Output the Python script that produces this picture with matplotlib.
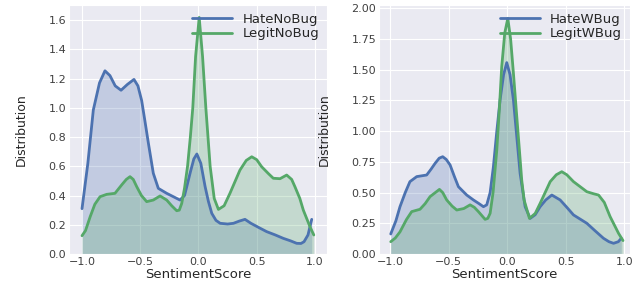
import matplotlib
matplotlib.use("Agg")
import matplotlib.pyplot as plt
import seaborn as sns

# curves (x = sentiment score, y = density)
hate_nobug_x = [-1.0, -0.95, -0.903, -0.85, -0.803, -0.76, -0.715, -0.665, -0.61, -0.554, -0.52,
                -0.488, -0.46, -0.43, -0.388, -0.345, -0.273, -0.216, -0.159, -0.12, -0.101,
                -0.07, -0.04, -0.014, 0.02, 0.057, 0.085, 0.114, 0.15, 0.186, 0.25, 0.3, 0.35,
                0.399, 0.45, 0.52, 0.585, 0.66, 0.728, 0.79, 0.843, 0.88, 0.906, 0.94, 0.972]
hate_nobug_y = [0.31, 0.62, 0.985, 1.17, 1.253, 1.22, 1.15, 1.12, 1.16, 1.194, 1.15,
                1.05, 0.91, 0.757, 0.552, 0.449, 0.415, 0.392, 0.369, 0.40, 0.46,
                0.56, 0.65, 0.684, 0.62, 0.46, 0.36, 0.278, 0.23, 0.21, 0.205, 0.21, 0.225,
                0.237, 0.21, 0.18, 0.153, 0.13, 0.107, 0.09, 0.073, 0.072, 0.084, 0.13, 0.237]

legit_nobug_x = [-1.0, -0.97, -0.93, -0.89, -0.845, -0.788, -0.717, -0.66, -0.62, -0.588, -0.56,
                 -0.53, -0.49, -0.445, -0.388, -0.33, -0.273, -0.23, -0.187, -0.165, -0.144,
                 -0.12, -0.094, -0.07, -0.049, -0.025, 0.006, 0.035, 0.063, 0.1, 0.135, 0.171,
                 0.22, 0.27, 0.356, 0.41, 0.457, 0.5, 0.542, 0.6, 0.642, 0.7, 0.757, 0.8,
                 0.828, 0.87, 0.9, 0.957, 0.99]
legit_nobug_y = [0.125, 0.16, 0.255, 0.34, 0.392, 0.408, 0.415, 0.472, 0.51, 0.529, 0.51,
                 0.46, 0.40, 0.358, 0.369, 0.397, 0.369, 0.33, 0.296, 0.30, 0.346,
                 0.45, 0.60, 0.80, 1.0, 1.35, 1.618, 1.35, 1.0, 0.6, 0.38, 0.305,
                 0.33, 0.415, 0.574, 0.64, 0.665, 0.645, 0.597, 0.55, 0.518, 0.515, 0.54, 0.51,
                 0.46, 0.38, 0.30, 0.187, 0.13]

hate_wbug_x = [-0.994, -0.95, -0.915, -0.87, -0.83, -0.772, -0.687, -0.65, -0.615, -0.58, -0.55,
               -0.52, -0.487, -0.45, -0.416, -0.345, -0.288, -0.24, -0.202, -0.174, -0.145,
               -0.117, -0.09, -0.06, -0.03, -0.003, 0.025, 0.054, 0.085, 0.111, 0.154, 0.197,
               0.24, 0.282, 0.33, 0.382, 0.453, 0.51, 0.567, 0.681, 0.75, 0.823, 0.87, 0.909,
               0.95, 0.975]
hate_wbug_y = [0.163, 0.27, 0.385, 0.50, 0.589, 0.63, 0.643, 0.69, 0.738, 0.78, 0.792,
               0.77, 0.725, 0.63, 0.548, 0.48, 0.44, 0.41, 0.385, 0.40, 0.50,
               0.711, 0.98, 1.254, 1.46, 1.558, 1.46, 1.254, 0.93, 0.657, 0.385, 0.29,
               0.32, 0.385, 0.44, 0.48, 0.44, 0.38, 0.318, 0.25, 0.19, 0.128, 0.10, 0.087,
               0.10, 0.128]

legit_wbug_x = [-0.994, -0.955, -0.915, -0.86, -0.815, -0.744, -0.7, -0.658, -0.578, -0.55,
                -0.516, -0.47, -0.43, -0.37, -0.316, -0.28, -0.245, -0.188, -0.165, -0.145,
                -0.12, -0.088, -0.065, -0.046, -0.02, 0.006, 0.03, 0.054, 0.08, 0.105, 0.125,
                0.145, 0.191, 0.24, 0.282, 0.368, 0.42, 0.467, 0.51, 0.567, 0.681, 0.74,
                0.781, 0.83, 0.88, 0.952, 0.99]
legit_wbug_y = [0.10, 0.13, 0.18, 0.28, 0.345, 0.364, 0.41, 0.467, 0.526, 0.50,
                0.44, 0.39, 0.358, 0.37, 0.40, 0.38, 0.345, 0.282, 0.29, 0.331,
                0.50, 0.847, 1.20, 1.525, 1.80, 1.918, 1.75, 1.471, 1.15, 0.847, 0.60,
                0.44, 0.29, 0.33, 0.412, 0.589, 0.645, 0.67, 0.645, 0.589, 0.507, 0.49,
                0.48, 0.42, 0.304, 0.168, 0.109]

panels = [
    ("HateNoBug", hate_nobug_x, hate_nobug_y, "LegitNoBug", legit_nobug_x, legit_nobug_y),
    ("HateWBug", hate_wbug_x, hate_wbug_y, "LegitWBug", legit_wbug_x, legit_wbug_y),
]
x_ticks = [-1.0, -0.5, 0.0, 0.5, 1.0]
left_ticks = [0.0, 0.2, 0.4, 0.6, 0.8, 1.0, 1.2, 1.4, 1.6]
right_ticks = [0.0, 0.25, 0.5, 0.75, 1.0, 1.25, 1.5, 1.75, 2.0]

sns.set_style("darkgrid")
plt.rcParams["font.family"] = ["DejaVu Sans"]

blue = "#4C72B0"
green = "#55A868"

fig = plt.figure(figsize=(6.41, 2.86), dpi=100)
ax1 = fig.add_axes([0.1076, 0.1119, 0.4025, 0.8706])
ax2 = fig.add_axes([0.5913, 0.1119, 0.3916, 0.8706])

for ax, (n1, x1, y1, n2, x2, y2) in zip([ax1, ax2], panels):
    ax.fill_between(x1, y1, 0, color=blue, alpha=0.25, lw=0)
    ax.plot(x1, y1, color=blue, lw=2, label=n1)
    ax.fill_between(x2, y2, 0, color=green, alpha=0.25, lw=0)
    ax.plot(x2, y2, color=green, lw=2, label=n2)
    ax.set_xticks(x_ticks)
    ax.set_xlabel("SentimentScore", fontsize=9.5, labelpad=1, color="#262626")
    ax.set_ylabel("Distribution", fontsize=9, labelpad=15, color="#262626")
    ax.tick_params(labelsize=8, colors="#404040", length=0, pad=2)
    ax.legend(loc="upper right", frameon=False, fontsize=9.5, handlelength=3.0,
              borderaxespad=0.2, labelspacing=0.1)

ax1.set_xlim(-1.112, 1.103)
ax1.set_ylim(0, 1.703)
ax1.set_yticks(left_ticks)
ax2.set_xlim(-1.094, 1.05)
ax2.set_ylim(0, 2.027)
ax2.set_yticks(right_ticks)

fig.savefig("out.png", dpi=100)
